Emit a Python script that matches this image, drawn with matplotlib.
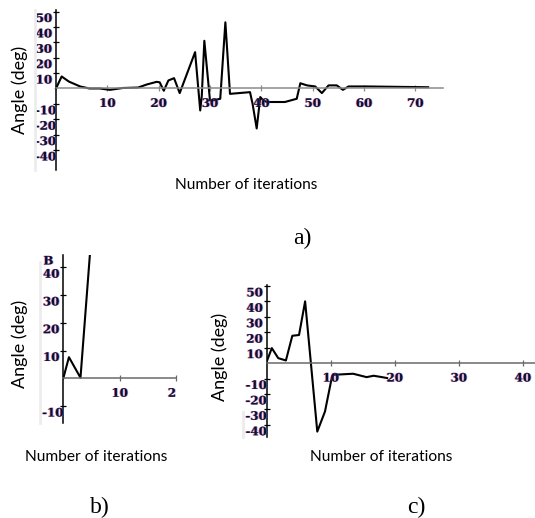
import matplotlib
matplotlib.use("Agg")
import matplotlib.pyplot as plt
import matplotlib.patheffects as pe
from matplotlib.lines import Line2D
from matplotlib.transforms import offset_copy, blended_transform_factory

# ---------------- data ----------------
a_x = [0, 1.1, 2.5, 4.7, 6.5, 8.5, 10.5, 13, 16, 17.7, 19.6, 20.2, 21, 21.9, 23, 24.1,
       27.1, 28.1, 28.4, 28.9, 30.0, 30.5, 32.0, 33.0, 33.9, 37.8, 38.3, 39.1, 39.8,
       40.4, 41.1, 44.6, 46.9, 47.6, 48.9, 50.5, 51.8, 53.1, 54.7, 55.9, 57.0, 60.6, 72.5]
a_y = [0, 7.8, 4.5, 1.3, 0, 0, -0.9, 0.3, 0.6, 2.6, 4.3, 4.0, -1.5, 5.2, 6.7, -3,
       23.6, -14.3, -5, 31, -7.8, -7.8, -6.7, 43, -3.5, -2.4, -10, -26, -5.6,
       -7.8, -8.8, -8.8, -6.7, 3.4, 2.0, 1.3, -3, 2, 2, -0.9, 1.3, 1.3, 0.8]

b_x = [0, 1.0, 3.05, 5.0]
b_y = [0, 7.6, 0.2, 52]

c_x = [0, 0.8, 1.8, 3.0, 4.0, 5.05, 6.0, 7.9, 9.1, 10.2, 10.4, 13.5, 15.6, 16.7, 18.0, 18.8]
c_y = [1, 9.7, 3.2, 1.7, 17.7, 18.2, 40, -44.4, -31.4, -8.7, -7.6, -6.9, -9.1, -8.2, -9.1, -9.7]

a_xticks = [10, 20, 30, 40, 50, 60, 70]
a_yticks = [50, 40, 30, 20, 10, -10, -20, -30, -40]
b_xticks = [10, 20]
b_yticks = [40, 30, 20, 10, -10]
c_xticks = [10, 20, 30, 40]
c_yticks = [50, 40, 30, 20, 10, -10, -20, -30, -40]

W, H = 535, 518
fig = plt.figure(figsize=(W / 100, H / 100), dpi=100)
fig.patch.set_facecolor("white")

LAB_FONT = "Lato"
TICK_FONT = "DejaVu Serif"
TICK_COL = "#101030"
fringe = [pe.SimplePatchShadow(offset=(-0.55, 0), shadow_rgbFace="#ff2020", alpha=0.6),
          pe.SimplePatchShadow(offset=(0.55, 0), shadow_rgbFace="#2060ff", alpha=0.6),
          pe.Normal()]


def px_axes(left, right, top, bottom):
    return fig.add_axes([left / W, 1 - bottom / H, (right - left) / W, (bottom - top) / H])


def gray_strip(x, y0, y1):
    fig.add_artist(Line2D([x / W, x / W], [1 - y0 / H, 1 - y1 / H], color="#ececec",
                          lw=2, transform=fig.transFigure))


def style(ax, xlim, ylim, xticks, yticks, xaxis_color):
    ax.set_xlim(*xlim)
    ax.set_ylim(*ylim)
    ax.patch.set_alpha(0)
    for s in ("top", "right"):
        ax.spines[s].set_visible(False)
    ax.spines["left"].set_position(("data", 0))
    ax.spines["bottom"].set_position(("data", 0))
    ax.spines["left"].set_color("black")
    ax.spines["left"].set_linewidth(1.1)
    ax.spines["bottom"].set_color(xaxis_color)
    ax.spines["bottom"].set_linewidth(1.1)
    ax.set_xticks(xticks)
    ax.set_yticks(yticks)
    ax.tick_params(direction="inout", length=5, width=0.9, labelbottom=False, labelleft=False)
    ax.tick_params(axis="x", color=xaxis_color)
    ytr = blended_transform_factory(ax.transAxes, ax.transData)
    for v in yticks:
        dx = 0 if v < 0 else -4
        t = offset_copy(ytr, fig=fig, x=dx, y=-7, units="dots")
        ax.text(0, v, str(v), transform=t, ha="right", va="center", fontsize=8.5,
                fontweight="bold", family=TICK_FONT, color=TICK_COL, path_effects=fringe,
                clip_on=False)
    for v in xticks:
        t = offset_copy(ax.transData, fig=fig, x=0, y=-15, units="dots")
        ax.text(v, 0, str(v), transform=t, ha="center", va="center", fontsize=8.5,
                fontweight="bold", family=TICK_FONT, color=TICK_COL, path_effects=fringe,
                clip_on=True)


# ---------------- panel a ----------------
gray_strip(35, 10, 170)
axa = px_axes(56, 443, 10, 170)
style(axa, (0, 75.4), (-53, 51), a_xticks, a_yticks, "#8a8a8a")
axa.plot(a_x, a_y, color="black", lw=1.5, clip_on=False)

# ---------------- panel b ----------------
gray_strip(40, 262, 423)
axb = px_axes(63.3, 176, 255, 422.7)
style(axb, (0, 19.6), (-16, 44.4), b_xticks, b_yticks, "#6a6a6a")
axb.plot(b_x, b_y, color="black", lw=1.5)
axb.text(0, 1, "B", transform=offset_copy(axb.transAxes, fig=fig, x=-10, y=-6, units="dots"),
         ha="right", va="center", fontsize=8.5, fontweight="bold", family=TICK_FONT,
         color=TICK_COL, path_effects=fringe)

# ---------------- panel c ----------------
gray_strip(243, 412, 437)
axc = px_axes(266.7, 535, 285, 436.7)
style(axc, (0, 41.9), (-47.7, 50.6), c_xticks, c_yticks, "#6a6a6a")
axc.plot(c_x, c_y, color="black", lw=1.5)

# ---------------- axis titles and captions ----------------
def ftext(x, y, s, **kw):
    fig.text(x / W, 1 - y / H, s, ha="center", va="center", **kw)

ftext(20, 90, "Angle (deg)", rotation=90, fontsize=13, family=LAB_FONT)
ftext(246, 185, "Number of iterations", fontsize=11.2, family=LAB_FONT)
ftext(302, 238, "a)", fontsize=17, family="Liberation Serif")

ftext(20, 344, "Angle (deg)", rotation=90, fontsize=13, family=LAB_FONT)
ftext(96, 457, "Number of iterations", fontsize=11.2, family=LAB_FONT)
ftext(100, 507, "b)", fontsize=17, family="Liberation Serif")

ftext(220, 357, "Angle (deg)", rotation=90, fontsize=13, family=LAB_FONT)
ftext(381, 457, "Number of iterations", fontsize=11.2, family=LAB_FONT)
ftext(416, 507, "c)", fontsize=17, family="Liberation Serif")

fig.savefig("out.png", dpi=100, facecolor="white")
